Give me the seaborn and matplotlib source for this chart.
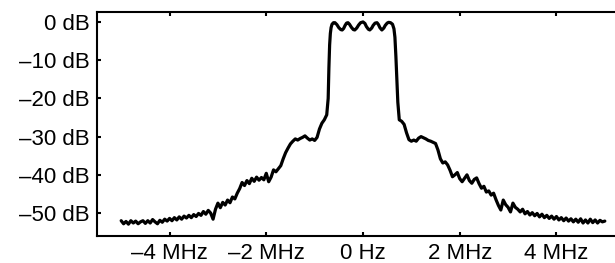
# Spectrum plot: power level vs frequency offset
import numpy as np
import pandas as pd
import matplotlib
matplotlib.use("Agg")
import matplotlib.pyplot as plt
import seaborn as sns

# Frequency offset (MHz)
freq_left = [-5.00, -4.95, -4.90, -4.85, -4.80, -4.75, -4.70, -4.65, -4.60, -4.55,
             -4.50, -4.45, -4.40, -4.35, -4.30, -4.25, -4.20, -4.15, -4.10, -4.05,
             -4.00, -3.95, -3.90, -3.85, -3.80, -3.75, -3.70, -3.65, -3.60, -3.55,
             -3.50, -3.45, -3.40, -3.35, -3.30, -3.25, -3.20, -3.15, -3.10, -3.05,
             -3.00, -2.95, -2.90, -2.85, -2.80, -2.75, -2.70, -2.65, -2.60, -2.55,
             -2.50, -2.45, -2.40, -2.35, -2.30, -2.25, -2.20, -2.15, -2.10, -2.05,
             -2.00, -1.95, -1.90, -1.85, -1.80, -1.75, -1.70, -1.65, -1.60, -1.55,
             -1.50, -1.45, -1.40, -1.35, -1.30, -1.25, -1.20, -1.15, -1.10, -1.05,
             -1.00, -0.95, -0.90, -0.85, -0.80, -0.75]
level_left = [-52.0, -52.8, -52.2, -52.9, -52.0, -52.6, -52.1, -52.8, -52.3, -52.0,
              -52.7, -52.0, -52.6, -51.7, -52.3, -52.8, -51.9, -52.4, -51.6, -52.1,
              -51.4, -52.0, -51.2, -51.8, -51.0, -51.6, -50.8, -51.3, -50.6, -51.2,
              -50.4, -50.9, -50.1, -50.6, -49.6, -50.3, -49.3, -50.0, -51.6, -49.0,
              -47.4, -48.6, -47.2, -47.9, -46.6, -47.3, -45.8, -46.3, -44.8, -43.6,
              -42.0, -42.8, -41.5, -42.3, -40.9, -41.7, -40.6, -41.4, -40.7, -41.3,
              -39.6, -41.8, -40.6, -38.7, -39.2, -38.4, -37.6, -35.8, -34.2, -33.0,
              -31.9, -31.2, -30.6, -30.9, -30.5, -30.2, -29.8, -30.4, -30.9, -30.6,
              -31.0, -30.2, -28.0, -26.5, -25.6, -24.3]

# Passband with ripple
freq_band = [-0.72, -0.705, -0.69, -0.675, -0.66, -0.64, -0.61, -0.58, -0.54, -0.50,
             -0.46, -0.43, -0.40, -0.37, -0.34, -0.31, -0.28, -0.24, -0.20, -0.17,
             -0.13, -0.09, -0.05, 0.00, 0.04, 0.07, 0.11, 0.14, 0.18, 0.21,
             0.25, 0.29, 0.32, 0.35, 0.39, 0.43, 0.46, 0.50, 0.53, 0.57,
             0.61, 0.64, 0.66, 0.68, 0.70, 0.72]
level_band = [-20.0, -12.0, -6.0, -3.0, -1.5, -0.6, -0.2, -0.2, -0.7, -1.5,
              -2.0, -2.1, -1.7, -0.9, -0.3, -0.2, -0.6, -1.4, -2.0, -2.1,
              -1.6, -0.8, -0.2, 0.0, -0.4, -1.2, -1.9, -2.1, -1.6, -0.9,
              -0.3, -0.2, -0.7, -1.5, -2.1, -1.6, -0.9, -0.3, -0.1, -0.2,
              -0.6, -1.8, -4.0, -9.0, -15.0, -21.0]

freq_right = [0.75, 0.80, 0.85, 0.90, 0.95, 1.00, 1.05, 1.10, 1.15, 1.20,
              1.25, 1.30, 1.35, 1.40, 1.45, 1.50, 1.55, 1.60, 1.65, 1.70,
              1.75, 1.80, 1.85, 1.90, 1.95, 2.00, 2.05, 2.10, 2.15, 2.20,
              2.25, 2.30, 2.35, 2.40, 2.45, 2.50, 2.55, 2.60, 2.65, 2.70,
              2.75, 2.80, 2.85, 2.90, 2.95, 3.00, 3.05, 3.10, 3.15, 3.20,
              3.25, 3.30, 3.35, 3.40, 3.45, 3.50, 3.55, 3.60, 3.65, 3.70,
              3.75, 3.80, 3.85, 3.90, 3.95, 4.00, 4.05, 4.10, 4.15, 4.20,
              4.25, 4.30, 4.35, 4.40, 4.45, 4.50, 4.55, 4.60, 4.65, 4.70,
              4.75, 4.80, 4.85, 4.90, 4.95, 5.00]
level_right = [-25.6, -26.0, -26.8, -29.0, -30.8, -31.2, -30.9, -31.2, -30.4, -30.0,
               -30.3, -30.6, -31.0, -31.2, -31.5, -31.8, -33.5, -35.8, -36.9, -36.6,
               -37.4, -38.8, -40.5, -40.0, -39.4, -41.0, -41.8, -40.9, -40.0, -41.5,
               -42.2, -41.2, -40.8, -42.3, -43.5, -43.0, -44.5, -44.2, -45.3, -44.8,
               -46.5, -48.0, -49.2, -46.6, -47.8, -48.5, -49.7, -47.4, -48.5, -49.0,
               -49.7, -49.0, -50.2, -49.6, -50.5, -49.9, -50.7, -50.1, -51.0, -50.3,
               -51.2, -50.6, -51.4, -50.8, -51.6, -50.9, -51.8, -51.2, -52.0, -51.3,
               -52.1, -51.5, -52.3, -51.6, -52.4, -51.5, -52.6, -51.8, -52.6, -51.6,
               -52.5, -51.8, -52.6, -51.9, -52.3, -52.1]

x_ticks = [-4, -2, 0, 2, 4]
x_ticklabels = ["\u20134 MHz", "\u20132 MHz", "0 Hz", "2 MHz", "4 MHz"]
y_ticks = [0, -10, -20, -30, -40, -50]
y_ticklabels = ["0 dB", "\u201310 dB", "\u201320 dB", "\u201330 dB", "\u201340 dB", "\u201350 dB"]

df = pd.DataFrame({
    "freq": freq_left + freq_band + freq_right,
    "level": level_left + level_band + level_right,
})

sns.set_style("white")
plt.rcParams["font.family"] = ["Liberation Sans", "DejaVu Sans"]

fig = plt.figure(figsize=(6.15, 2.63), dpi=100)
ax = fig.add_axes([97 / 615, 1 - 236 / 263, (629 - 97) / 615, (236 - 12) / 263])

sns.lineplot(data=df, x="freq", y="level", ax=ax, color="black", lw=2.3,
             sort=False, estimator=None)

ax.set_xlim(-5.5, 5.5)
ax.set_ylim(-56, 2.6)
ax.set_xticks(x_ticks)
ax.set_xticklabels(x_ticklabels)
ax.set_yticks(y_ticks)
ax.set_yticklabels(y_ticklabels)
ax.set_xlabel("")
ax.set_ylabel("")

for s in ax.spines.values():
    s.set_linewidth(1.5)
    s.set_color("black")

ax.tick_params(direction="in", length=3, width=1.5, labelsize=16, pad=5,
               top=True, left=True, bottom=True, right=False, colors="black")

fig.savefig("out.png", dpi=100)
